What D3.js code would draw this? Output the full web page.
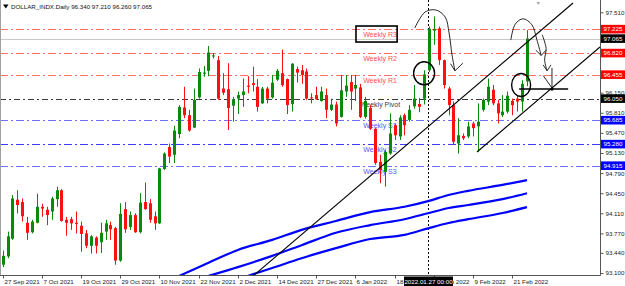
<!DOCTYPE html>
<html>
<head>
<meta charset="utf-8">
<script src="https://cdn.jsdelivr.net/npm/d3@7"></script>
<style>
  body { margin: 0; background: #fff; }
  svg { display: block; font-family: "Liberation Sans", Arial, sans-serif; }
</style>
</head>
<body>
<div id="chart"></div>
<script>
// daily bars, DOLLAR_INDX (27 Sep 2021 .. 24 Feb 2022)
const startDate = "2021-09-27";
const skipDays = ["2021-12-24"];

const open = [93.24,93.38,93.68,94.34,94.30,93.95,93.79,93.95,94.22,94.17,
  94.14,94.35,94.50,94.00,94.01,93.95,93.90,93.77,93.56,93.70,
  93.62,93.80,93.91,93.86,93.31,94.18,93.88,94.08,93.79,94.30,
  94.28,94.06,93.94,94.86,95.23,95.10,95.45,95.90,95.77,95.56,
  96.07,96.47,96.52,96.77,96.70,96.22,96.21,95.93,96.05,96.11,
  96.27,96.31,96.25,95.97,96.22,96.07,96.37,96.48,96.38,95.96,
  96.55,96.53,96.51,96.07,96.11,96.01,96.11,95.86,95.95,95.74,
  96.17,96.33,96.22,96.24,95.74,95.89,95.54,94.98,94.81,95.12,
  95.60,95.41,95.77,95.69,95.92,95.96,96.05,96.53,97.20,97.24,
  96.70,96.22,95.94,95.29,95.42,95.41,95.63,95.58,95.86,96.00,
  96.20,95.97,95.77,95.83,96.01,96.05,96.00,96.34];
const high = [93.48,93.80,94.42,94.50,94.36,94.05,94.00,94.44,94.27,94.22,
  94.39,94.56,94.52,94.05,94.05,94.14,93.97,93.83,93.74,93.72,
  93.95,94.00,93.97,93.88,94.28,94.30,94.14,94.11,94.45,94.63,
  94.35,94.14,94.88,95.14,95.29,95.59,95.94,96.25,95.86,96.22,
  96.56,96.60,96.94,96.82,96.77,96.48,96.65,96.08,96.17,96.39,
  96.43,96.59,96.38,96.25,96.25,96.45,96.55,96.88,96.39,96.65,
  96.59,96.62,96.56,96.14,96.25,96.25,96.22,96.05,96.00,96.45,
  96.45,96.45,96.45,96.30,96.08,95.94,95.55,95.10,95.18,95.80,
  95.63,95.77,95.80,95.94,96.28,96.06,96.53,97.27,97.44,97.27,
  96.71,96.25,96.00,95.72,95.46,95.66,95.66,95.97,96.05,96.39,
  96.28,96.03,96.11,96.17,96.05,96.11,96.36,97.21];
const low = [93.20,93.35,93.66,94.11,93.97,93.66,93.77,93.94,94.05,93.91,
  94.00,94.22,93.97,93.73,93.83,93.77,93.46,93.52,93.43,93.43,
  93.44,93.66,93.66,93.24,93.29,93.78,93.83,93.78,93.77,94.17,
  93.95,93.83,93.93,94.84,94.96,94.96,95.38,95.72,95.49,95.55,
  96.05,96.42,96.43,96.73,96.03,96.11,95.52,95.66,95.79,95.91,
  96.14,96.17,95.83,95.96,95.97,96.05,96.35,96.25,95.79,95.83,
  96.32,96.30,96.03,95.97,96.03,96.00,95.72,95.84,95.58,95.73,
  96.08,95.86,96.01,95.72,95.71,95.52,94.93,94.62,94.56,95.10,
  95.35,95.35,95.43,95.66,95.88,95.82,95.95,96.50,96.96,96.62,
  96.22,95.77,95.27,95.12,95.35,95.38,95.41,95.15,95.83,95.94,
  95.94,95.63,95.74,95.80,95.77,95.83,95.83,96.26];
const close = [93.39,93.72,94.36,94.25,94.06,93.78,93.97,94.22,94.19,94.08,
  94.36,94.50,93.98,93.95,93.94,93.93,93.76,93.56,93.72,93.56,
  93.78,93.94,93.84,93.31,94.10,93.84,94.08,93.79,94.29,94.18,
  94.00,93.94,94.87,95.12,95.07,95.51,95.91,95.77,95.51,96.03,
  96.50,96.49,96.83,96.78,96.05,96.15,95.89,96.04,96.11,96.17,
  96.25,96.28,95.91,96.22,96.05,96.32,96.52,96.28,95.94,96.64,
  96.49,96.45,96.05,96.06,96.04,96.17,95.86,95.95,95.63,96.19,
  96.27,96.17,96.28,95.74,96.01,95.54,94.96,94.84,95.15,95.46,
  95.43,95.73,95.60,95.86,96.05,95.91,96.46,97.23,97.23,96.70,
  96.28,95.94,95.32,95.43,95.38,95.58,95.55,95.66,96.03,96.25,
  95.97,95.80,95.83,96.10,95.94,96.00,96.30,97.065];

// moving averages read at some bars
const maFastBars = [36, 41, 48, 55, 61, 68, 75, 82, 87, 91, 95, 102, 107];
const maFast = [93.05, 93.235, 93.49, 93.66, 93.83, 93.98, 94.13, 94.22, 94.32, 94.42, 94.49, 94.59, 94.67];
const maMidBars = [42, 48, 55, 61, 68, 75, 82, 87, 91, 95, 102, 107];
const maMid = [93.05, 93.20, 93.39, 93.57, 93.78, 93.91, 94.01, 94.115, 94.20, 94.25, 94.35, 94.45];
const maSlowBars = [50, 55, 61, 68, 75, 82, 87, 91, 95, 102, 107];
const maSlow = [93.05, 93.185, 93.35, 93.52, 93.675, 93.745, 93.86, 93.945, 94.01, 94.115, 94.215];

// weekly pivot levels
const levelNames = ["Weekly R3", "Weekly R2", "Weekly R1", "Weekly Pivot", "Weekly S1", "Weekly S2", "Weekly S3"];
const levelValues = [97.225, 96.820, 96.455, 96.050, 95.685, 95.280, 94.915];
const levelKinds = ["r", "r", "r", "p", "s", "s", "s"];
const levelLabelBar = 77;

const priceTicks = [93.100, 93.440, 93.770, 94.110, 94.450, 94.790, 95.130, 95.470, 95.810, 96.150, 96.480, 96.820, 97.170, 97.510];
const bidPrice = 97.065;
const crossDate = "2022-01-27";
const titleText = "DOLLAR_INDX.Daily 96.340 97.210 96.260 97.065";
const shiftBar = 109.3;

// drawn objects [bar, price]
const trendLines = [
  [[51.1, 93.05], [116.4, 97.667]],
  [[96.8, 95.147], [121.9, 96.923]]
];
const hLine = [[105.4, 96.212], [115.4, 96.212]];
const circles = [[86.0, 96.478], [105.8, 96.28]];
const boxR3 = [[72.1, 97.278], [80.5, 97.007]];
const arrows = [
  { path: [[84.1, 97.244], [86.2, 97.515], [88.4, 97.549], [90.3, 97.43], [91.1, 97.16], [91.7, 96.787], [92.3, 96.52]],
    head: [[91.4, 96.64], [92.3, 96.52], [93.9, 96.65]] },
  { path: [[103.7, 97.04], [104.6, 97.31], [106.2, 97.40], [108.0, 97.30], [109.0, 97.05], [109.9, 96.78]],
    head: [[108.8, 96.87], [109.9, 96.78], [110.9, 96.87]] },
  { path: [[110.1, 97.13], [110.9, 96.90], [110.6, 96.70], [111.1, 96.52]],
    head: [[110.3, 96.62], [111.1, 96.52], [111.9, 96.62]] },
  { path: [[112.1, 96.57], [112.1, 96.23]], head: [] },
  { path: [[110.3, 96.44], [112.1, 96.23]], head: [] }
];

// trading dates
let dates = [];
let d = new Date(startDate + "T00:00:00");
const fmtKey = d3.timeFormat("%Y-%m-%d");
while (dates.length < close.length) {
  let day = d.getDay();
  if (day !== 0 && day !== 6 && !skipDays.includes(fmtKey(d))) dates.push(new Date(d));
  d.setDate(d.getDate() + 1);
}

let width = 625, height = 286;
let plotRight = 600, plotBottom = 275;

let svg = d3.select("#chart").append("svg")
  .attr("width", width)
  .attr("height", height);

svg.append("rect").attr("width", width).attr("height", height).attr("fill", "#fff");

let x = d3.scaleLinear().domain([0, 121.9]).range([2.7, plotRight]);
let y = d3.scaleLinear().domain([93.1, 97.51]).range([273, 12.3]);

svg.append("clipPath").attr("id", "plot")
  .append("rect").attr("x", 1).attr("y", 0).attr("width", plotRight - 1).attr("height", plotBottom);

let plot = svg.append("g").attr("clip-path", "url(#plot)");

// bid line
plot.append("line")
  .attr("x1", 0).attr("x2", plotRight)
  .attr("y1", Math.round(y(bidPrice)) + 0.5).attr("y2", Math.round(y(bidPrice)) + 0.5)
  .attr("stroke", "#c8c8c8");

// crosshair
let crossIdx = dates.findIndex(t => fmtKey(t) === crossDate);
plot.append("line")
  .attr("x1", Math.round(x(crossIdx)) - 0.5).attr("x2", Math.round(x(crossIdx)) - 0.5)
  .attr("y1", 0).attr("y2", plotBottom)
  .attr("stroke", "#000").attr("stroke-dasharray", "2,2");

// pivot lines
let levelColor = { r: "#ff6e6e", p: "#3a3a3a", s: "#6e6eff" };
let textColor = { r: "#ff5050", p: "#404040", s: "#5555ff" };
levelValues.forEach(function(v, k) {
  let yy = Math.round(y(v)) + 0.5;
  plot.append("line")
    .attr("x1", 0).attr("x2", plotRight)
    .attr("y1", yy).attr("y2", yy)
    .attr("stroke", k === 5 ? "#3c3cff" : levelColor[levelKinds[k]])
    .attr("stroke-width", 1.2)
    .attr("stroke-dasharray", levelKinds[k] === "p" ? "6,3,2,3" : "8,3,2,3");
  plot.append("text")
    .attr("x", x(levelLabelBar))
    .attr("y", yy + 7.5)
    .attr("text-anchor", "middle")
    .attr("font-size", "7px")
    .attr("fill", textColor[levelKinds[k]])
    .text(levelNames[k]);
});

// moving averages
let maLine = d3.line().x(p => x(p[0])).y(p => y(p[1])).curve(d3.curveMonotoneX);
[[maFastBars, maFast], [maMidBars, maMid], [maSlowBars, maSlow]].forEach(function(m) {
  plot.append("path")
    .attr("d", maLine(m[0].map((b, k) => [b, m[1][k]])))
    .attr("fill", "none")
    .attr("stroke", "#0000ff")
    .attr("stroke-width", 2.2);
});

// candles
let bars = close.map((c, i) => ({ i: i, o: open[i], h: high[i], l: low[i], c: c }));
let candle = plot.selectAll(".candle").data(bars).enter().append("g");
candle.append("line")
  .attr("x1", b => Math.round(x(b.i)) + 0.5).attr("x2", b => Math.round(x(b.i)) + 0.5)
  .attr("y1", b => y(b.h)).attr("y2", b => y(b.l))
  .attr("stroke", b => b.c >= b.o ? "#0a8a0a" : "#ff1010");
candle.append("rect")
  .attr("x", b => Math.round(x(b.i)) - 1)
  .attr("width", 3)
  .attr("y", b => y(Math.max(b.o, b.c)))
  .attr("height", b => Math.max(1, Math.abs(y(b.o) - y(b.c))))
  .attr("fill", b => b.c >= b.o ? "#0a8a0a" : "#ff1010");

// hand drawn objects
let seg = d3.line().x(p => x(p[0])).y(p => y(p[1]));
trendLines.concat([hLine]).forEach(function(t, k) {
  plot.append("path").attr("d", seg(t))
    .attr("fill", "none").attr("stroke", "#000")
    .attr("stroke-width", k === 2 ? 1.5 : 1.1);
});
circles.forEach(function(c, k) {
  plot.append("ellipse")
    .attr("cx", x(c[0])).attr("cy", y(c[1]))
    .attr("rx", k === 0 ? 10.5 : 9.5).attr("ry", 11.5)
    .attr("fill", "none").attr("stroke", "#000").attr("stroke-width", 1.4);
});
plot.append("rect")
  .attr("x", x(boxR3[0][0])).attr("y", y(boxR3[0][1]))
  .attr("width", x(boxR3[1][0]) - x(boxR3[0][0]))
  .attr("height", y(boxR3[1][1]) - y(boxR3[0][1]))
  .attr("fill", "none").attr("stroke", "#000").attr("stroke-width", 1.6);
let pen = d3.line().x(p => x(p[0])).y(p => y(p[1])).curve(d3.curveCatmullRom);
arrows.forEach(function(a) {
  plot.append("path").attr("d", pen(a.path))
    .attr("fill", "none").attr("stroke", "#111").attr("stroke-width", 0.9);
  if (a.head.length) {
    plot.append("path").attr("d", seg(a.head))
      .attr("fill", "none").attr("stroke", "#111").attr("stroke-width", 0.9);
  }
});
plot.append("circle").attr("cx", x(112.1)).attr("cy", y(96.212)).attr("r", 1.6).attr("fill", "#000");

// frame
svg.append("line").attr("x1", 0.5).attr("x2", 0.5).attr("y1", 0).attr("y2", plotBottom).attr("stroke", "#a0a0a0");
svg.append("line").attr("x1", plotRight + 0.5).attr("x2", plotRight + 0.5).attr("y1", 0).attr("y2", plotBottom + 0.5).attr("stroke", "#555");
svg.append("line").attr("x1", 0).attr("x2", plotRight + 0.5).attr("y1", plotBottom + 0.5).attr("y2", plotBottom + 0.5).attr("stroke", "#555");

// price labels on axis (tags hide the grid labels under them)
let tagBg = { r: "#ff0000", p: "#000", s: "#0000ff" };
let tags = levelValues.map((v, k) => ({ v: v, bg: tagBg[levelKinds[k]] }));
tags.push({ v: bidPrice, bg: "#000" });
let visibleTicks = priceTicks.filter(t => tags.every(g => Math.abs(y(t) - y(g.v)) > 5));

let yAxis = svg.append("g")
  .attr("transform", `translate(${plotRight + 0.5},0)`)
  .call(d3.axisRight(y).tickValues(visibleTicks).tickFormat(d3.format(".3f")).tickSize(3).tickPadding(2));
yAxis.select(".domain").remove();
yAxis.selectAll("line").attr("stroke", "#555");
yAxis.selectAll("text").attr("font-size", "6.2px").attr("fill", "#222").attr("font-family", "Liberation Sans, Arial, sans-serif");

tags.forEach(function(t) {
  svg.append("rect")
    .attr("x", plotRight + 1).attr("y", y(t.v) - 4.3)
    .attr("width", 25).attr("height", 8.6)
    .attr("fill", t.bg);
  svg.append("text")
    .attr("x", plotRight + 3.5).attr("y", y(t.v) + 2.3)
    .attr("font-size", "6.2px").attr("fill", "#fff")
    .text(d3.format(".3f")(t.v));
});

// time axis
let fmtDate = d3.timeFormat("%-d %b %Y");
let timeTicks = dates.map((t, i) => i).filter(i => i % 8 === 0);
let xAxis = svg.append("g").attr("transform", `translate(0,${plotBottom + 0.5})`);
timeTicks.forEach(function(i) {
  let xx = Math.round(x(i)) + 0.5;
  xAxis.append("line").attr("x1", xx).attr("x2", xx).attr("y1", 0).attr("y2", 3).attr("stroke", "#555");
  xAxis.append("text")
    .attr("x", xx + 1).attr("y", 8)
    .attr("font-size", "6.2px").attr("fill", "#222")
    .text(fmtDate(dates[i]));
});
let crossText = d3.timeFormat("%Y.%m.%d %H:%M")(dates[crossIdx]);
xAxis.append("rect")
  .attr("x", x(crossIdx) - 25).attr("y", 1)
  .attr("width", 49).attr("height", 10).attr("fill", "#000");
xAxis.append("text")
  .attr("x", x(crossIdx) - 0.5).attr("y", 8.3)
  .attr("text-anchor", "middle")
  .attr("font-size", "6.2px").attr("fill", "#fff")
  .text(crossText);

// title
svg.append("path").attr("d", "M3,4.5 L8.5,4.5 L5.75,8.5 Z").attr("fill", "#000");
svg.append("text")
  .attr("x", 11).attr("y", 9.3)
  .attr("font-size", "6.2px").attr("fill", "#111")
  .text(titleText);

// chart shift marker
let sx = x(shiftBar);
svg.append("path").attr("d", `M${sx - 2},2 L${sx + 2},2 L${sx},5 Z`).attr("fill", "#b0b0b0");
</script>
</body>
</html>
